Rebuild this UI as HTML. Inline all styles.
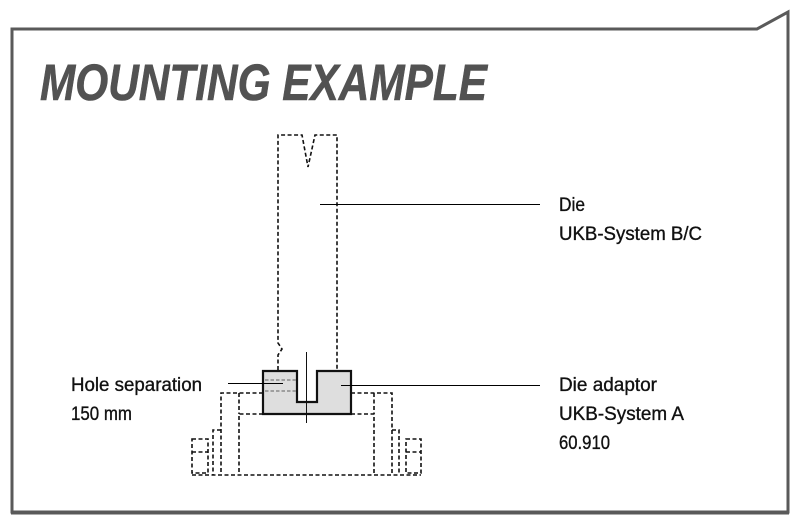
<!DOCTYPE html>
<html>
<head>
<meta charset="utf-8">
<style>
  html,body{margin:0;padding:0;background:#fff;}
  svg{display:block;}
  text{font-family:"Liberation Sans", Arial, sans-serif;}
</style>
</head>
<body>
<svg width="800" height="524" viewBox="0 0 800 524" xmlns="http://www.w3.org/2000/svg">
  <rect width="800" height="524" fill="#fff"/>
  <!-- frame -->
  <path d="M12,512 L12,29 L757,29 L788,12 L788,512 Z" fill="none" stroke="#5a5a5a" stroke-width="3" stroke-linejoin="miter"/>
  <line x1="11" y1="512.5" x2="789" y2="512.5" stroke="#5a5a5a" stroke-width="4"/>

  <!-- title -->
  <text x="40" y="100" font-size="51" font-weight="bold" font-style="italic" fill="#525252" stroke="#525252" stroke-width="0.6" textLength="447" lengthAdjust="spacingAndGlyphs">MOUNTING EXAMPLE</text>

  <!-- die (dashed) -->
  <g fill="none" stroke="#111" stroke-width="1.6" stroke-dasharray="4 2.5">
    <path d="M278,370 L278,355 L282,349 L278,343 L278,135 L302,135 L308,167 L315,135 L337,135 L337,371"/>
    <!-- base structure -->
    <path d="M263,393 H221 V475"/>
    <path d="M221,430 H213 V475"/>
    <path d="M263,414 H239 V475"/>
    <path d="M239,393 V414"/>
    <path d="M351,393 H392 V475"/>
    <path d="M392,430 H399 V475"/>
    <path d="M351,414 H374 V475"/>
    <path d="M374,393 V414"/>
    <path d="M192,475 H421"/>
    <!-- bolts -->
    <rect x="192" y="439" width="16" height="34"/>
    <path d="M192,452 H208"/>
    <rect x="406" y="439" width="15" height="34"/>
    <path d="M406,452 H421"/>
  </g>

  <!-- adaptor -->
  <path d="M263,371 H297 V402 H317 V371 H351 V414 H263 Z" fill="#dedede" stroke="#111" stroke-width="2.2" stroke-linejoin="miter"/>
  <g stroke="#8a8a8a" stroke-width="1.4" stroke-dasharray="3.5 2" fill="none">
    <path d="M265,380 H296"/>
    <path d="M265,391 H296"/>
  </g>

  <!-- center line -->
  <line x1="306.5" y1="352" x2="306.5" y2="423" stroke="#111" stroke-width="1"/>

  <!-- leaders -->
  <g stroke="#000" stroke-width="1">
    <line x1="320" y1="204.5" x2="540" y2="204.5"/>
    <line x1="228" y1="383.5" x2="283" y2="383.5"/>
    <line x1="341" y1="385.5" x2="540" y2="385.5"/>
  </g>

  <!-- labels -->
  <g font-size="19.5" fill="#111" stroke="#111" stroke-width="0.35">
    <text x="559" y="211" textLength="26" lengthAdjust="spacingAndGlyphs">Die</text>
    <text x="559" y="240" textLength="143" lengthAdjust="spacingAndGlyphs">UKB-System B/C</text>
    <text x="71" y="391" textLength="131" lengthAdjust="spacingAndGlyphs">Hole separation</text>
    <text x="71" y="420" textLength="61" lengthAdjust="spacingAndGlyphs">150 mm</text>
    <text x="559" y="391" textLength="98" lengthAdjust="spacingAndGlyphs">Die adaptor</text>
    <text x="559" y="420" textLength="125" lengthAdjust="spacingAndGlyphs">UKB-System A</text>
    <text x="559" y="449" textLength="51" lengthAdjust="spacingAndGlyphs">60.910</text>
  </g>
</svg>
</body>
</html>
